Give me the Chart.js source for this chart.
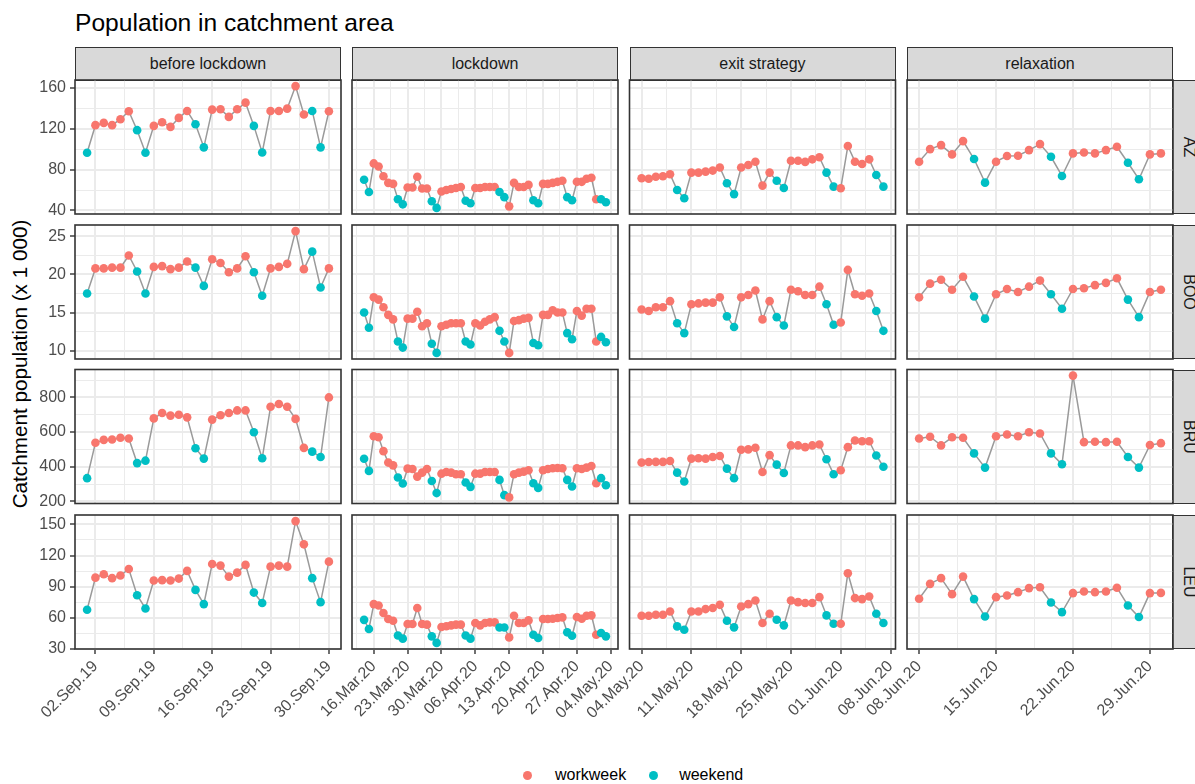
<!DOCTYPE html>
<html>
<head>
<meta charset="utf-8">
<script src="https://cdn.jsdelivr.net/npm/chart.js@4.4.0/dist/chart.umd.min.js"></script>
<style>
  html, body { margin: 0; padding: 0; background: #fff; }
  body { width: 1195px; height: 784px; position: relative; overflow: hidden;
         font-family: 'Liberation Sans', Arial, sans-serif; }
  canvas.panel { position: absolute; left: 0; top: 0; }
  .title { position: absolute; left: 75px; top: 11px; font-size: 24.6px; line-height: 24px; color: #000; white-space: nowrap; }
  .ytitle { position: absolute; left: 20px; top: 364px; font-size: 20.7px; line-height: 20px; color: #000;
            white-space: nowrap; transform: translate(-50%, -50%) rotate(-90deg); }
  .strip { position: absolute; box-sizing: border-box; background: #D9D9D9; border: 1.6px solid #333;
           color: #1A1A1A; font-size: 16px; display: flex; align-items: center; justify-content: center; }
  .strip span { white-space: nowrap; }
  .strip.right span { transform: rotate(90deg); }
  .legend { position: absolute; top: 765px; height: 20px; display: flex; align-items: center; font-size: 16px; color: #000; }
  .legend .dot { width: 9px; height: 9px; border-radius: 50%; display: inline-block; }
</style>
</head>
<body>
<div class="title">Population in catchment area</div>
<div class="ytitle">Catchment population (x 1 000)</div>
<script>
// ---------- data ----------
const periods = ['before lockdown', 'lockdown', 'exit strategy', 'relaxation'];
const periodStart = ['2019-09-01', '2020-03-14', '2020-05-04', '2020-06-08'];
const areas = ['AZ', 'BOO', 'BRU', 'LEU'];
const dayTypes = ['workweek', 'weekend'];
const yMajorStep = [40, 5, 200, 30];

const AZ_before = [96.4,123.4,125.6,123.4,129.2,137,118.5,96.4,122.7,126.2,121.7,130.5,137.3,124.3,101.7,138.6,138.9,131.5,138.9,145.4,122.7,96.7,137.3,137.3,139.6,161.6,133.8,137.3,101.7,137];
const AZ_lockdown = [70,58,86,83,73.5,67,66,51,46,62.5,62.5,73,61.5,61.5,49,42.5,58.5,60,61,62,63,49.5,47,62,62,63,63,63,58,53,44,67,63,63,65,50,47,66,66,67,68,69,53,50,68,68,71,72,51,51,48];
const AZ_exit = [71.5,71,73,73.5,75.4,60,52,77,77,78,79,82,66.6,56,82,84.5,87.7,64.3,77,69,62,88.6,88.6,87.5,90,92,77,63.3,61.7,103,87.7,85.4,90,74.7,63.3];
const AZ_relaxation = [87.7,100,103.9,94.8,107.8,90.3,67.2,87.7,93.2,93.5,99,104.9,92.5,73.7,95.8,96.7,95.8,99,102.3,86.7,70.5,94.8,95.8];

const BOO_before = [17.5,20.8,20.8,20.9,20.9,22.5,20.4,17.5,21.0,21.1,20.7,20.9,21.7,20.9,18.5,22.0,21.5,20.3,20.8,22.4,20.3,17.2,20.8,21.0,21.4,25.7,20.7,23.0,18.3,20.8];
const BOO_lockdown = [15.0,13.0,17.0,16.7,15.7,14.7,14.1,11.2,10.4,14.2,14.2,15.1,13.2,13.6,10.9,9.7,13.2,13.4,13.6,13.6,13.6,11.2,10.8,13.6,13.3,13.8,14.1,14.4,12.6,11.2,9.7,13.9,14.0,14.2,14.3,11.0,10.7,14.7,14.7,15.3,15.0,15.0,12.3,11.5,15.2,14.6,15.5,15.5,11.2,11.8,11.1];
const BOO_exit = [15.4,15.2,15.7,15.7,16.5,13.6,12.3,16.1,16.2,16.3,16.3,17.0,14.5,13.1,17.0,17.3,17.9,14.1,16.5,14.4,13.3,18.0,17.8,17.3,17.3,18.4,16.1,13.4,13.7,20.6,17.4,17.2,17.5,15.2,12.6];
const BOO_relaxation = [17.0,18.8,19.3,18.0,19.7,17.1,14.2,17.4,18.1,17.7,18.4,19.2,17.4,15.5,18.1,18.2,18.6,18.9,19.5,16.7,14.4,17.7,18.0];

const BRU_before = [334,538,555,557,567,563,421,435,679,710,695,700,685,507,447,672,697,710,725,725,599,449,746,762,746,676,509,487,456,800];
const BRU_lockdown = [446,376,576,570,490,424,408,338,303,389,387,343,366,387,318,248,360,370,366,357,357,309,284,360,360,370,370,370,324,236,223,357,366,372,380,305,278,380,387,391,393,391,324,286,391,387,395,404,305,334,293];
const BRU_exit = [424,427,428,428,433,366,315,447,449,447,456,462,389,334,498,500,510,370,467,412,364,523,523,513,523,528,443,357,380,513,551,547,547,465,400];
const BRU_relaxation = [563,573,523,570,567,477,395,576,586,576,599,592,477,414,926,542,544,542,544,456,395,525,536];

const LEU_before = [67.7,98.7,102,98.2,100.7,107.1,81.8,69,95.9,96.3,95.9,97.8,105.2,86.9,73.2,111.9,110.3,99.7,103.5,111,84.3,74.2,109.3,110.3,109.3,153.2,130.8,98.2,75.1,114.1];
const LEU_lockdown = [58,49.2,73.2,71.9,64.6,58.8,57.2,43,39.9,54,54,69.4,54,53.4,42.1,35.8,51.1,51.8,52.7,53.4,53.4,43,39.9,55,52.7,55,55.6,55.6,50.7,50.7,41.1,62,55,55,57.5,43.7,40.5,58.8,58.8,59.1,59.8,60.4,46,42.7,60.7,59.1,62,62.3,43.7,45.3,42.1];
const LEU_exit = [62,62,62.9,62.9,66.1,51.7,48.5,66.1,66.1,68.4,69.4,72.5,57.2,50.8,70.9,73.2,76.7,55,63.9,58.1,52.7,76.7,75.1,74.2,74.2,79.9,62.3,54.3,54.3,103,79,78,80.5,63.9,55];
const LEU_relaxation = [78.3,92.7,98.2,82.8,99.7,78,61.3,79.9,81.5,84.7,88.6,89.5,74.8,65.5,83.8,85.3,84.7,85.3,89,71.9,60.7,83.8,84];

const values = [
  [AZ_before, AZ_lockdown, AZ_exit, AZ_relaxation],
  [BOO_before, BOO_lockdown, BOO_exit, BOO_relaxation],
  [BRU_before, BRU_lockdown, BRU_exit, BRU_relaxation],
  [LEU_before, LEU_lockdown, LEU_exit, LEU_relaxation]
];

// ---------- styling / layout ----------
const W = 1195, H = 784;
const FONT = "'Liberation Sans', Arial, sans-serif";
const typeColor = { workweek: '#F8766D', weekend: '#00BFC4' };
const colLeft = [75, 352, 629.5, 907];
const panelW = 266;
const rowTop = [80, 225, 369.5, 515];
const panelH = 134;
const yAxisW = 75;
const xAxisH = 95;
const MONTHS = ['Jan','Feb','Mar','Apr','May','Jun','Jul','Aug','Sep','Oct','Nov','Dec'];

function dayNum(iso) {
  const [y, m, d] = iso.split('-').map(Number);
  return Date.UTC(y, m - 1, d) / 864e5;
}
function dayDate(n) { return new Date(Math.round(n) * 864e5); }
function fmtDay(n) {
  const d = dayDate(n);
  const dd = String(d.getUTCDate()).padStart(2, '0');
  const yy = String(d.getUTCFullYear()).slice(2);
  return dd + '.' + MONTHS[d.getUTCMonth()] + '.' + yy;
}
function dayType(n) {
  const wd = dayDate(n).getUTCDay();
  return (wd === 0 || wd === 6) ? dayTypes[1] : dayTypes[0];
}

// strips
periods.forEach((p, c) => {
  const s = document.createElement('div');
  s.className = 'strip';
  s.style.left = colLeft[c] + 'px'; s.style.top = '47px';
  s.style.width = panelW + 'px'; s.style.height = '34px';
  s.innerHTML = '<span>' + p + '</span>';
  document.body.appendChild(s);
});
areas.forEach((a, r) => {
  const s = document.createElement('div');
  s.className = 'strip right';
  s.style.left = (colLeft[3] + panelW - 1) + 'px'; s.style.top = rowTop[r] + 'px';
  s.style.width = '34px'; s.style.height = panelH + 'px';
  s.innerHTML = '<span>' + a + '</span>';
  document.body.appendChild(s);
});

// legend
const leg = document.createElement('div');
leg.className = 'legend';
leg.style.left = '523px';
leg.innerHTML =
  '<span class="dot" style="background:' + typeColor.workweek + '"></span>' +
  '<span style="margin-left:23px">' + dayTypes[0] + '</span>' +
  '<span class="dot" style="margin-left:23px;background:' + typeColor.weekend + '"></span>' +
  '<span style="margin-left:21px">' + dayTypes[1] + '</span>';
document.body.appendChild(leg);

const borderPlugin = {
  id: 'panelBorder',
  afterDraw(chart) {
    const a = chart.chartArea, ctx = chart.ctx;
    ctx.save();
    ctx.strokeStyle = '#333333';
    ctx.lineWidth = 1.6;
    ctx.strokeRect(a.left, a.top, a.right - a.left, a.bottom - a.top);
    ctx.restore();
  }
};

function rowRange(r) {
  let mn = Infinity, mx = -Infinity;
  values[r].forEach(arr => arr.forEach(v => { mn = Math.min(mn, v); mx = Math.max(mx, v); }));
  const e = (mx - mn) * 0.05;
  return [mn - e, mx + e];
}

for (let r = 0; r < 4; r++) {
  const [ymin, ymax] = rowRange(r);
  const step = yMajorStep[r];
  for (let c = 0; c < 4; c++) {
    const start = dayNum(periodStart[c]);
    const vals = values[r][c];
    const pts = vals.map((v, i) => ({ x: start + i, y: v, t: dayType(start + i) }));
    const x0 = start, x1 = start + vals.length - 1;
    const xe = (x1 - x0) * 0.05;
    const left = c === 0, bottom = r === 3;

    const cv = document.createElement('canvas');
    cv.className = 'panel';
    cv.width = W; cv.height = H;
    document.body.appendChild(cv);

    const padLeft = left ? colLeft[0] - yAxisW : colLeft[c];
    const padRight = W - (colLeft[c] + panelW);
    const padTop = rowTop[r];
    const padBottom = H - (rowTop[r] + panelH) - (bottom ? xAxisH : 0);

    new Chart(cv, {
      type: 'line',
      data: {
        datasets: [{
          data: pts,
          borderColor: '#9A9A9A',
          borderWidth: 1.5,
          tension: 0,
          pointRadius: 4.3,
          pointBorderWidth: 0,
          pointBackgroundColor: ctx => typeColor[ctx.raw ? ctx.raw.t : 'workweek'],
          pointBorderColor: ctx => typeColor[ctx.raw ? ctx.raw.t : 'workweek'],
          clip: false
        }]
      },
      options: {
        responsive: false, animation: false, events: [], devicePixelRatio: 1,
        layout: { padding: { left: padLeft, right: padRight, top: padTop, bottom: padBottom } },
        plugins: { legend: { display: false }, tooltip: { enabled: false } },
        scales: {
          x: {
            type: 'linear', min: x0 - xe, max: x1 + xe, bounds: 'data',
            border: { display: false },
            afterBuildTicks(scale) {
              const mn = scale.min, mx = scale.max;
              let d = Math.ceil(mn);
              while (dayDate(d).getUTCDay() !== 1) d++;
              const ticks = [];
              for (let m = d - 3.5; m <= mx; m += 3.5) {
                if (m >= mn) ticks.push({ value: m, mj: Number.isInteger(m) });
              }
              scale.ticks = ticks;
            },
            afterFit(scale) {
              scale.height = bottom ? xAxisH : 0;
              scale.paddingLeft = 0; scale.paddingRight = 0;
              scale.paddingTop = 0; scale.paddingBottom = 0;
            },
            grid: {
              color: '#EBEBEB',
              lineWidth: ctx => (ctx.tick && ctx.tick.mj) ? 2 : 1,
              drawTicks: bottom,
              tickLength: 5,
              tickColor: ctx => (ctx.tick && ctx.tick.mj) ? '#333333' : 'rgba(0,0,0,0)',
              tickWidth: 1.4
            },
            ticks: {
              display: bottom, autoSkip: false, minRotation: 45, maxRotation: 45, padding: 3,
              color: '#4D4D4D', font: { family: FONT, size: 16 },
              callback(v, i, ticks) { return ticks[i].mj ? fmtDay(v) : ''; }
            }
          },
          y: {
            type: 'linear', min: ymin, max: ymax, bounds: 'data',
            border: { display: false },
            afterBuildTicks(scale) {
              const half = step / 2;
              const ticks = [];
              for (let v = Math.ceil(scale.min / half) * half; v <= scale.max; v += half) {
                ticks.push({ value: v, mj: Math.abs(v / step - Math.round(v / step)) < 1e-9 });
              }
              scale.ticks = ticks;
            },
            afterFit(scale) {
              scale.width = left ? yAxisW : 0;
              scale.paddingLeft = 0; scale.paddingRight = 0;
              scale.paddingTop = 0; scale.paddingBottom = 0;
            },
            grid: {
              color: '#EBEBEB',
              lineWidth: ctx => (ctx.tick && ctx.tick.mj) ? 2 : 1,
              drawTicks: left,
              tickLength: 5,
              tickColor: ctx => (ctx.tick && ctx.tick.mj) ? '#333333' : 'rgba(0,0,0,0)',
              tickWidth: 1.4
            },
            ticks: {
              display: left, autoSkip: false, padding: 4,
              color: '#4D4D4D', font: { family: FONT, size: 16 },
              callback(v, i, ticks) { return ticks[i].mj ? String(Math.round(v)) : ''; }
            }
          }
        }
      },
      plugins: [borderPlugin]
    });
  }
}
</script>
</body>
</html>
